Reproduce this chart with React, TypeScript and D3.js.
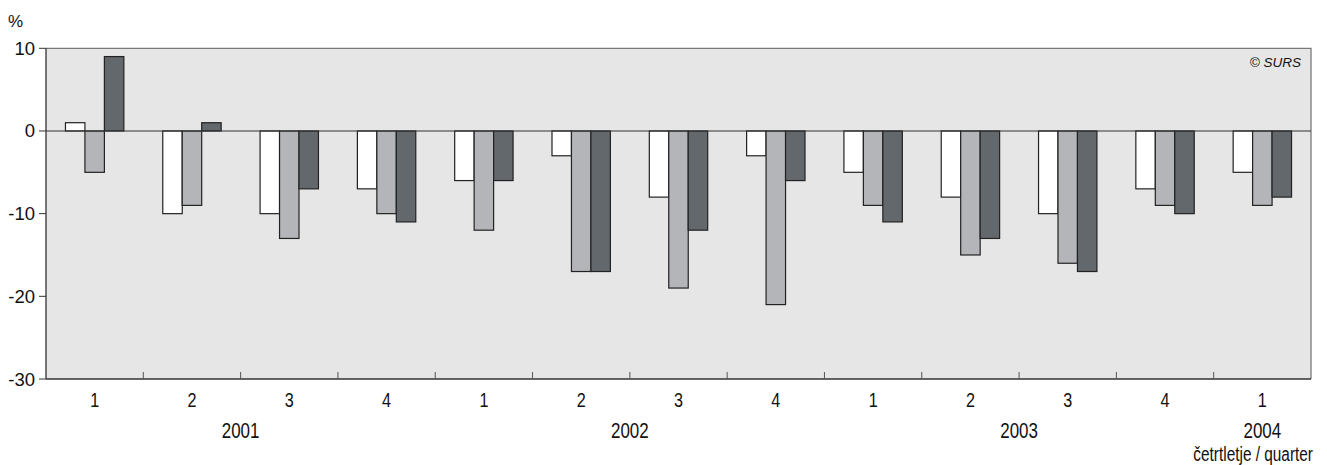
import React, { useEffect, useRef } from "react";
import * as d3 from "d3";

const quarters = ["1", "2", "3", "4", "1", "2", "3", "4", "1", "2", "3", "4", "1"];
const years = [
  { label: "2001", at: 2 },
  { label: "2002", at: 6 },
  { label: "2003", at: 10 },
  { label: "2004", at: 12.5 },
];
const seriesA = [1, -10, -10, -7, -6, -3, -8, -3, -5, -8, -10, -7, -5];
const seriesB = [-5, -9, -13, -10, -12, -17, -19, -21, -9, -15, -16, -9, -9];
const seriesC = [9, 1, -7, -11, -6, -17, -12, -6, -11, -13, -17, -10, -8];
const yTicks = [10, 0, -10, -20, -30];
const colors = ["#ffffff", "#b4b5b9", "#63686c"];

const SANS = "'Liberation Sans', Arimo, Helvetica, Arial, sans-serif";

export default function App() {
  const ref = useRef<SVGSVGElement>(null);
  useEffect(() => {
    const svg = d3.select(ref.current);
    svg.selectAll("*").remove();
    const L = 46, R = 1311, T = 48.3, B = 379;
    const x = d3.scaleLinear().domain([0, quarters.length]).range([L, R]);
    const y = d3.scaleLinear().domain([-30, 10]).range([B, T]);
    const step = (R - L) / quarters.length;
    const bw = step * 0.2;

    svg.append("rect").attr("x", L).attr("y", T).attr("width", R - L).attr("height", B - T).attr("fill", "#e6e6e6");
    svg.append("path").attr("d", `M${L},${T}H${R}V${B}`).attr("fill", "none").attr("stroke", "#7a7a7a").attr("stroke-width", 1.3);

    const all = [seriesA, seriesB, seriesC];
    all.forEach((s, si) => {
      svg.append("g").selectAll("rect").data(s).join("rect")
        .attr("x", (_, i) => x(i + 0.5) - 1.5 * bw + si * bw)
        .attr("width", bw)
        .attr("y", (d) => y(Math.max(0, d)))
        .attr("height", (d) => Math.abs(y(d) - y(0)))
        .attr("fill", colors[si])
        .attr("stroke", "#222")
        .attr("stroke-width", 1.2);
    });

    svg.append("line").attr("x1", L).attr("x2", R).attr("y1", y(0)).attr("y2", y(0)).attr("stroke", "#333").attr("stroke-width", 1.2);
    svg.append("line").attr("x1", L).attr("x2", L).attr("y1", T).attr("y2", B).attr("stroke", "#333").attr("stroke-width", 1.3);
    svg.append("line").attr("x1", L).attr("x2", R).attr("y1", B).attr("y2", B).attr("stroke", "#333").attr("stroke-width", 1.3);

    yTicks.forEach((t) => {
      svg.append("line").attr("x1", L - 7).attr("x2", L).attr("y1", y(t)).attr("y2", y(t)).attr("stroke", "#333").attr("stroke-width", 1);
      svg.append("text").attr("x", 35).attr("y", y(t) + 6.5).attr("text-anchor", "end")
        .style("font-family", SANS).attr("font-size", 18.5).attr("fill", "#111").text(String(t));
    });
    svg.append("text").attr("x", 8).attr("y", 27).style("font-family", SANS).attr("font-size", 17).attr("fill", "#111").text("%");

    d3.range(1, quarters.length).forEach((i) => {
      svg.append("line").attr("x1", x(i)).attr("x2", x(i)).attr("y1", B).attr("y2", B - 7).attr("stroke", "#555").attr("stroke-width", 1);
    });

    const cond = (px: number, py: number, txt: string, size: number, anchor: string) => {
      const sx = 0.77;
      svg.append("text")
        .attr("transform", `translate(${px},${py}) scale(${sx},1)`)
        .attr("text-anchor", anchor)
        .style("font-family", SANS).style("font-size", `${size}px`).attr("fill", "#111").text(txt);
    };
    quarters.forEach((q, i) => cond(x(i + 0.5), 407, q, 21, "middle"));
    years.forEach((yr) => cond(x(yr.at), 438, yr.label, 22, "middle"));
    cond(1313, 461, "četrtletje / quarter", 20, "end");

    svg.append("text").attr("x", 1301).attr("y", 67).attr("text-anchor", "end")
      .style("font-family", SANS).attr("font-style", "italic").attr("font-size", 13.5).attr("fill", "#111").text("© SURS");
  }, []);
  return (
    <svg ref={ref} width={1327} height={465} style={{ position: "absolute", left: 0, top: 0, display: "block" }} />
  );
}
